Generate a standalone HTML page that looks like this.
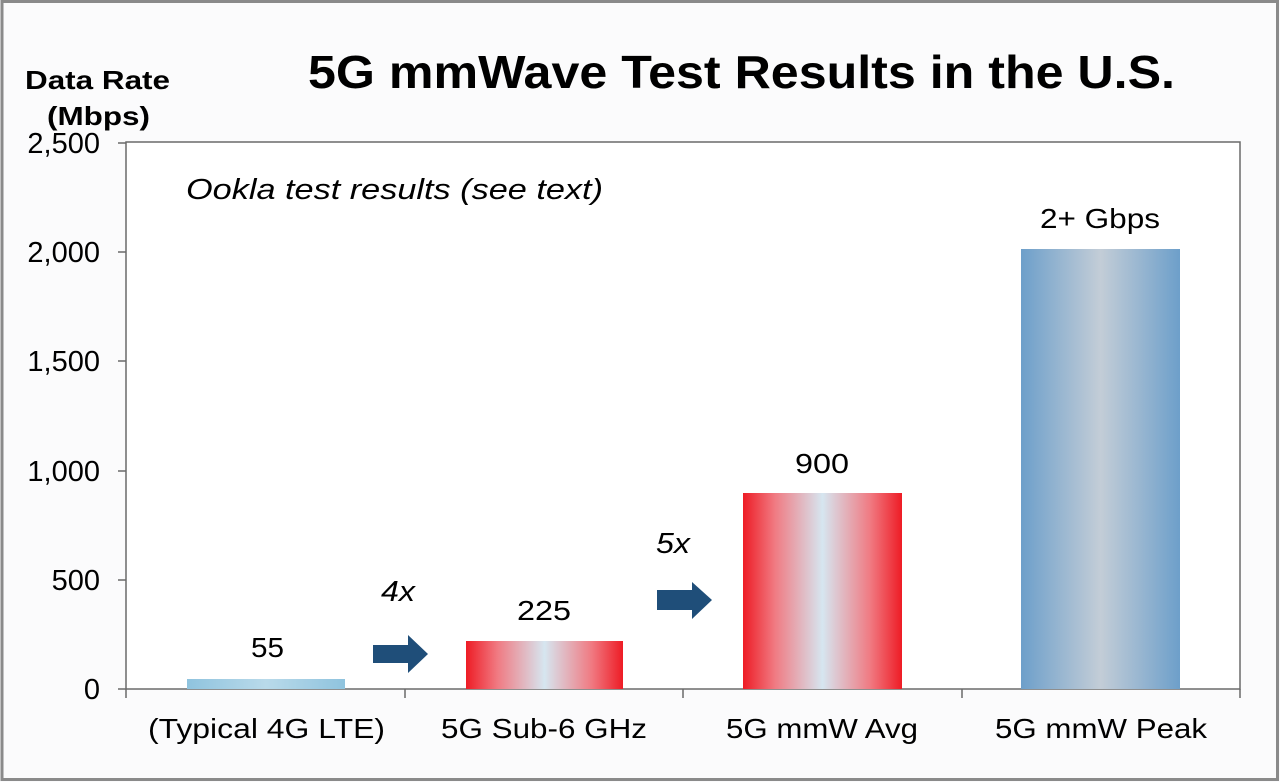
<!DOCTYPE html>
<html><head><meta charset="utf-8"><style>
html,body{margin:0;padding:0;background:#fff;}
svg{display:block;font-family:"Liberation Sans",Arial,sans-serif;}
</style></head><body>
<svg width="1280" height="782" viewBox="0 0 1280 782" xmlns="http://www.w3.org/2000/svg">
<defs>
<linearGradient id="red" x1="0" x2="1" y1="0" y2="0">
<stop offset="0" stop-color="#ee1c25"/><stop offset="0.2" stop-color="#f07a82"/><stop offset="0.5" stop-color="#d6e6f0"/><stop offset="0.8" stop-color="#f07a82"/><stop offset="1" stop-color="#ee1c25"/>
</linearGradient>
<linearGradient id="blue" x1="0" x2="1" y1="0" y2="0">
<stop offset="0" stop-color="#6d9fca"/><stop offset="0.5" stop-color="#c3cdd7"/><stop offset="1" stop-color="#6d9fca"/>
</linearGradient>
<linearGradient id="lte" x1="0" x2="1" y1="0" y2="0">
<stop offset="0" stop-color="#8fc3de"/><stop offset="0.5" stop-color="#b9daea"/><stop offset="1" stop-color="#8fc3de"/>
</linearGradient>
</defs>
<rect x="0" y="0" width="1280" height="782" fill="#fbfbfc"/>
<rect x="2" y="1.5" width="1275.5" height="778" fill="none" stroke="#8a8a8a" stroke-width="3"/>
<text x="308" y="88" font-size="46" font-weight="bold" textLength="867" lengthAdjust="spacingAndGlyphs">5G mmWave Test Results in the U.S.</text>
<text x="25" y="89" font-size="26" font-weight="bold" textLength="145" lengthAdjust="spacingAndGlyphs">Data Rate</text>
<text x="47" y="125" font-size="26" font-weight="bold" textLength="103" lengthAdjust="spacingAndGlyphs">(Mbps)</text>
<rect x="126" y="142" width="1114" height="547" fill="#fff" stroke="#6a6a6a" stroke-width="1.5"/>
<g stroke="#6a6a6a" stroke-width="1.5">
<line x1="118" y1="143" x2="126" y2="143"/><line x1="118" y1="252" x2="126" y2="252"/><line x1="118" y1="361" x2="126" y2="361"/><line x1="118" y1="471" x2="126" y2="471"/><line x1="118" y1="580" x2="126" y2="580"/><line x1="118" y1="689" x2="126" y2="689"/>
<line x1="126" y1="689" x2="126" y2="698"/><line x1="405" y1="689" x2="405" y2="698"/><line x1="683" y1="689" x2="683" y2="698"/><line x1="962" y1="689" x2="962" y2="698"/><line x1="1240" y1="689" x2="1240" y2="698"/>
</g>
<g font-size="29" text-anchor="end">
<text x="100" y="153">2,500</text><text x="100" y="262">2,000</text><text x="100" y="371">1,500</text><text x="100" y="481">1,000</text><text x="100" y="590">500</text><text x="100" y="699">0</text>
</g>
<text x="186" y="199" font-size="29" font-style="italic" textLength="417" lengthAdjust="spacingAndGlyphs">Ookla test results (see text)</text>
<rect x="187" y="679" width="158" height="10" fill="url(#lte)"/>
<rect x="466" y="641" width="157" height="48" fill="url(#red)"/>
<rect x="743" y="493" width="159" height="196" fill="url(#red)"/>
<rect x="1021" y="249" width="159" height="440" fill="url(#blue)"/>
<g font-size="28">
<text x="251" y="657" textLength="33" lengthAdjust="spacingAndGlyphs">55</text>
<text x="517" y="620" textLength="54" lengthAdjust="spacingAndGlyphs">225</text>
<text x="795" y="473" textLength="54" lengthAdjust="spacingAndGlyphs">900</text>
<text x="1040" y="228" textLength="120" lengthAdjust="spacingAndGlyphs">2+ Gbps</text>
<text x="148" y="738" textLength="237" lengthAdjust="spacingAndGlyphs">(Typical 4G LTE)</text>
<text x="441" y="738" textLength="206" lengthAdjust="spacingAndGlyphs">5G Sub-6 GHz</text>
<text x="726" y="738" textLength="192" lengthAdjust="spacingAndGlyphs">5G mmW Avg</text>
<text x="995" y="738" textLength="212" lengthAdjust="spacingAndGlyphs">5G mmW Peak</text>
</g>
<g font-size="29" font-style="italic">
<text x="381" y="601" textLength="34" lengthAdjust="spacingAndGlyphs">4x</text>
<text x="656" y="553" textLength="34" lengthAdjust="spacingAndGlyphs">5x</text>
</g>
<polygon points="373,645 408,645 408,635 428,654 408,673 408,663 373,663" fill="#1f4e79"/>
<polygon points="657,590 692,590 692,582 712,600 692,619 692,610 657,610" fill="#1f4e79"/>
</svg>
</body></html>
